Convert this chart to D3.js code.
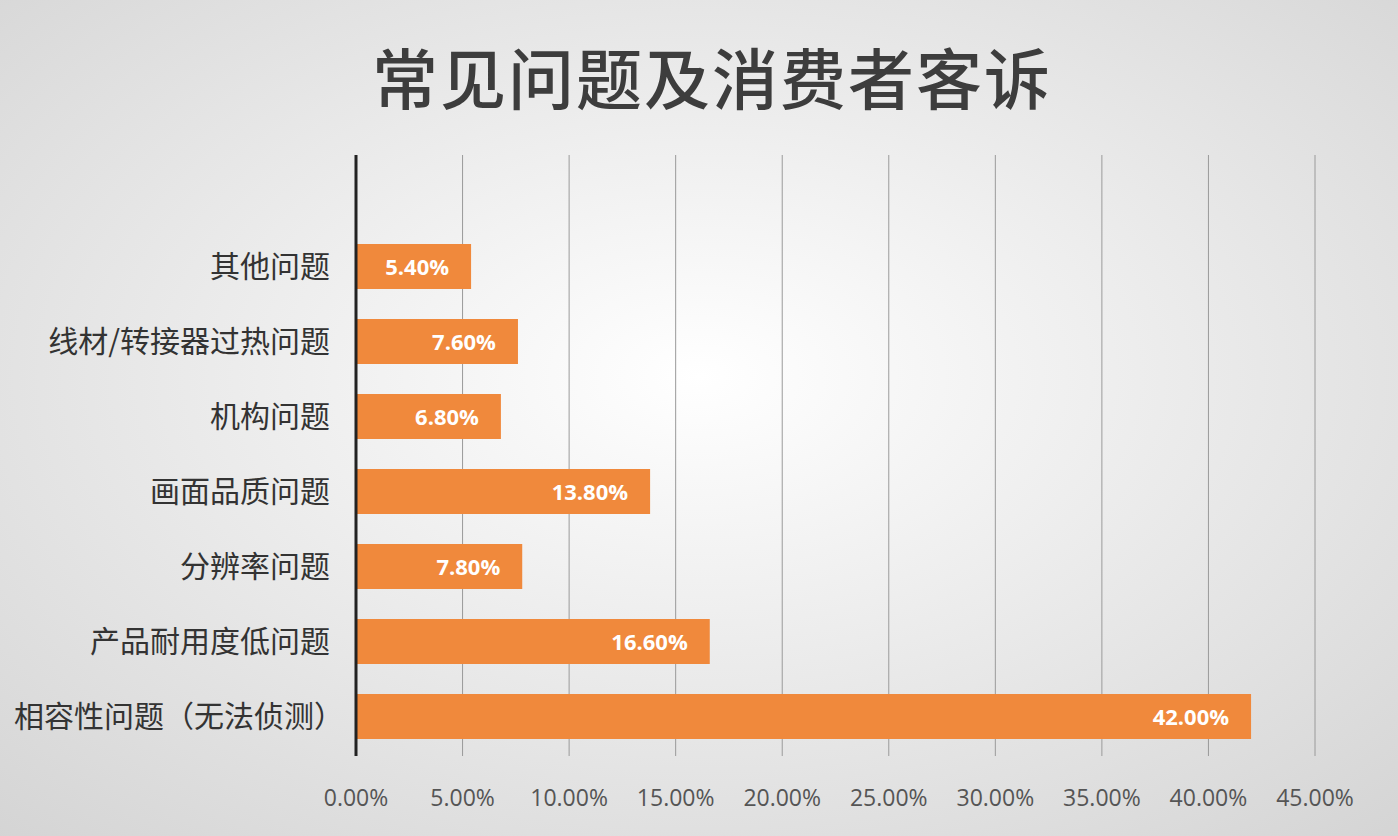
<!DOCTYPE html>
<html>
<head>
<meta charset="utf-8">
<script src="https://d3js.org/d3.v7.min.js"></script>
<style>
  body { margin: 0; }
  svg { display: block; }
</style>
</head>
<body>
<svg width="1398" height="836"></svg>
<script>
var categories = ["其他问题", "线材/转接器过热问题", "机构问题", "画面品质问题", "分辨率问题", "产品耐用度低问题", "相容性问题（无法侦测）"];
var values = [5.4, 7.6, 6.8, 13.8, 7.8, 16.6, 42.0];
var ticks = [0, 5, 10, 15, 20, 25, 30, 35, 40, 45];

var svg = d3.select("svg");

// background
var grad = svg.append("defs").append("radialGradient")
  .attr("id", "bg").attr("cx", "50%").attr("cy", "45%").attr("r", "75%");
grad.append("stop").attr("offset", "0%").attr("stop-color", "#ffffff");
grad.append("stop").attr("offset", "100%").attr("stop-color", "#d4d4d4");
svg.append("rect").attr("width", 1398).attr("height", 836).attr("fill", "url(#bg)");

svg.append("text")
  .attr("x", 712).attr("y", 104)
  .attr("text-anchor", "middle")
  .style("font-family", "'Noto Sans CJK SC'")
  .style("font-size", "66px")
  .style("font-weight", "500")
  .style("letter-spacing", "2px")
  .style("fill", "#3d3d3d")
  .text("常见问题及消费者客诉");

var x = d3.scaleLinear().domain([0, 45]).range([356, 1315]);
var y = d3.scaleBand().domain(categories).range([229, 754]).paddingInner(0.4).paddingOuter(0.2);

// gridlines
svg.selectAll(".grid").data(ticks.slice(1)).enter().append("line")
  .attr("x1", function(d) { return x(d); }).attr("x2", function(d) { return x(d); })
  .attr("y1", 155).attr("y2", 756)
  .style("stroke", "#9a9a9a").style("stroke-width", 1);

// tick labels
svg.selectAll(".tick-label").data(ticks).enter().append("text")
  .attr("x", function(d) { return x(d); }).attr("y", 806)
  .attr("text-anchor", "middle")
  .style("font-family", "'Open Sans', sans-serif")
  .style("font-size", "23px")
  .style("fill", "#555")
  .text(function(d) { return d.toFixed(2) + "%"; });

// bars
svg.selectAll(".bar").data(values).enter().append("rect")
  .attr("x", x(0))
  .attr("y", function(d, i) { return y(categories[i]); })
  .attr("width", function(d) { return x(d) - x(0); })
  .attr("height", y.bandwidth())
  .style("fill", "#f0893c");

svg.selectAll(".val").data(values).enter().append("text")
  .attr("x", function(d) { return x(d) - 22; })
  .attr("y", function(d, i) { return y(categories[i]) + y.bandwidth() / 2 + 8; })
  .attr("text-anchor", "end")
  .style("font-family", "'Open Sans', sans-serif")
  .style("font-size", "22px")
  .style("font-weight", "bold")
  .style("fill", "#fff")
  .text(function(d) { return d.toFixed(2) + "%"; });

// category labels
svg.selectAll(".cat").data(categories).enter().append("text")
  .attr("x", function(d, i) { return i == 6 ? 344 : 330; })
  .attr("y", function(d) { return y(d) + y.bandwidth() / 2 + 10; })
  .attr("text-anchor", "end")
  .style("font-family", "'Noto Sans CJK SC'")
  .style("font-size", "30px")
  .style("fill", "#333")
  .text(function(d) { return d; });

// axis line
svg.append("line")
  .attr("x1", 356).attr("x2", 356).attr("y1", 155).attr("y2", 756)
  .style("stroke", "#222").style("stroke-width", 3);
</script>
</body>
</html>
